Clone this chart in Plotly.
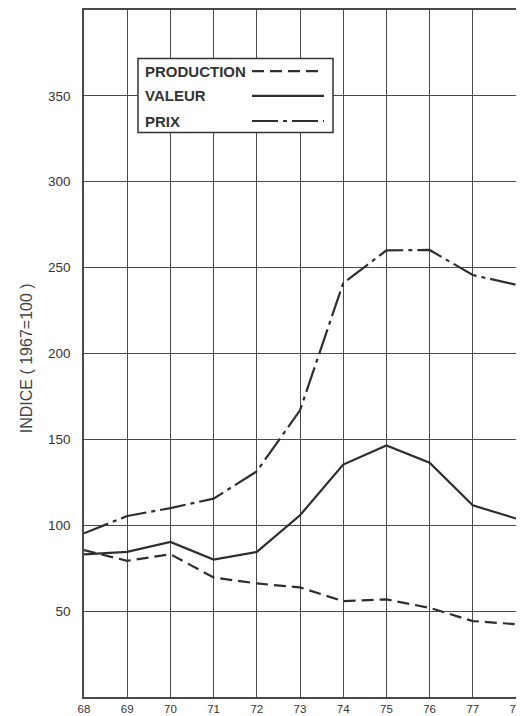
import plotly.graph_objects as go

years = [68, 69, 70, 71, 72, 73, 74, 75, 76, 77, 78]
production = [85.5, 79.3, 83.1, 69.6, 66.1, 63.8, 55.8, 56.8, 51.9, 44.2, 42.4]
valeur = [83, 84.5, 90.3, 80, 84.5, 105.8, 135.3, 146.5, 136.4, 111.6, 103.9]
prix = [95.3, 105.4, 110, 115.5, 131.4, 166.9, 241, 260, 260.3, 245.7, 240]
y_ticks = [50, 100, 150, 200, 250, 300, 350]
legend_labels = ["PRODUCTION", "VALEUR", "PRIX"]

LINE = "#2e2e2e"
GRID = "#4a4a4a"
dashes = ["12px,6px", "solid", "26px,5px,4px,5px"]
FONT = "Liberation Sans, Arial, sans-serif"

fig = go.Figure()
for name, vals, dash in zip(legend_labels, [production, valeur, prix], dashes):
    fig.add_trace(go.Scatter(x=years, y=vals, mode="lines", name=name,
                             line=dict(color=LINE, width=2.2, dash=dash),
                             showlegend=False))

# page body has an 8px default margin; figure is 516x708 so it fits the window
OFF = 8
FW, FH = 516, 708
L, R, T, B = 84 - OFF, 8, 9.5 - OFF, 19
PW, PH = FW - L - R, FH - T - B
BOT = 697  # page y of plot bottom

fig.update_layout(
    width=FW, height=FH,
    margin=dict(l=L, r=R, t=T, b=B, autoexpand=False),
    paper_bgcolor="white", plot_bgcolor="white",
    font=dict(family=FONT, color="#333", size=12),
    showlegend=False,
)
fig.update_xaxes(range=[68, 78], tickvals=years, ticktext=[str(y) for y in years],
                 showgrid=True, gridcolor=GRID, gridwidth=1,
                 showline=True, linecolor=GRID, linewidth=1.5, mirror=True,
                 zeroline=False, ticks="", automargin=False, ticklabelstandoff=0,
                 tickfont=dict(size=11.5, color="#333"))
fig.update_yaxes(range=[0, 400], tickvals=y_ticks, ticktext=[str(v) for v in y_ticks],
                 showgrid=True, gridcolor=GRID, gridwidth=1,
                 showline=True, linecolor=GRID, linewidth=1.5, mirror=True,
                 zeroline=False, ticks="", ticklabelstandoff=9, automargin=False,
                 tickfont=dict(size=13.5, color="#333"))

# y-axis title
fig.add_annotation(x=(26 - 84) / PW, y=(BOT - 358) / PH, xref="paper", yref="paper",
                   text="INDICE ( 1967=100 )", textangle=-90, showarrow=False,
                   xanchor="center", yanchor="middle",
                   font=dict(size=16, color="#444", family=FONT))

# custom legend box (text left, sample line right)
fig.add_shape(type="rect", xref="paper", yref="paper",
              x0=(138 - 84) / PW, x1=(333 - 84) / PW,
              y0=(BOT - 132) / PH, y1=(BOT - 58) / PH,
              line=dict(color="#333", width=1.5), fillcolor="white", layer="above")
ys = [70.7, 95.5, 120.6]
for lab, dash, yy in zip(legend_labels, dashes, ys):
    yp = (BOT - yy) / PH
    fig.add_annotation(x=(143 - 84) / PW, y=yp, xref="paper", yref="paper",
                       text="<b>" + lab + "</b>", showarrow=False, xanchor="left", yanchor="middle",
                       font=dict(size=15, color="#333", family=FONT))
    fig.add_shape(type="line", xref="paper", yref="paper",
                  x0=(252 - 84) / PW, x1=(324 - 84) / PW, y0=yp, y1=yp,
                  line=dict(color=LINE, width=2.2, dash=dash), layer="above")

fig.write_html("out.html")
